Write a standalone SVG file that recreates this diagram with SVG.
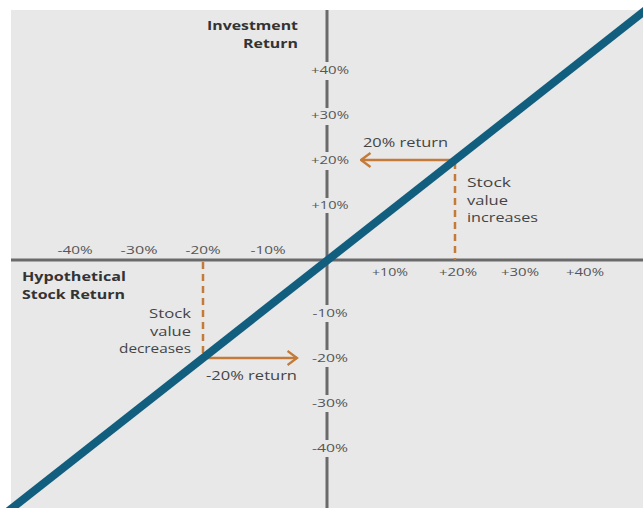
<svg xmlns="http://www.w3.org/2000/svg" width="643" height="508" viewBox="0 0 643 508">
<defs>
<style>
.tick{font-family:"Open Sans","Noto Sans",sans-serif;font-size:11.5px;fill:#555;text-anchor:middle}
.title{font-family:"Open Sans","Noto Sans",sans-serif;font-size:13px;font-weight:bold;fill:#333}
.note{font-family:"Open Sans","Noto Sans",sans-serif;font-size:13.5px;fill:#444}
.axis{stroke:#6a6a6a;stroke-width:3;fill:none}
.dash{stroke:#c47a38;stroke-width:2.5;stroke-dasharray:7 5;fill:none}
.arrow{stroke:#c47a38;stroke-width:2.5;fill:none}
</style>
<marker id="chev" viewBox="0 0 12 16" refX="10.5" refY="8" markerWidth="12" markerHeight="16" markerUnits="userSpaceOnUse" orient="auto">
<path d="M1,1 L10.5,8 L1,15" fill="none" stroke="#c47a38" stroke-width="2.3"/>
</marker>
</defs>
<rect x="0" y="0" width="643" height="508" fill="#ffffff"/>
<rect x="11" y="10" width="632" height="498" fill="#e8e8e8"/>
<g id="axes">
<line class="axis" x1="11" y1="260" x2="643" y2="260" stroke-width="2.5"/>
<path class="axis" d="M327,10 V62 M327,80 V108 M327,125 V152 M327,170 V198 M327,213 V305 M327,322 V350 M327,367 V395 M327,412 V440 M327,457 V508"/>
</g>
<g id="y-ticks">
<text class="tick" x="330" y="74" textLength="38" lengthAdjust="spacingAndGlyphs">+40%</text>
<text class="tick" x="330" y="119" textLength="38" lengthAdjust="spacingAndGlyphs">+30%</text>
<text class="tick" x="330" y="164" textLength="38" lengthAdjust="spacingAndGlyphs">+20%</text>
<text class="tick" x="330" y="209" textLength="37" lengthAdjust="spacingAndGlyphs">+10%</text>
<text class="tick" x="330" y="317" textLength="35" lengthAdjust="spacingAndGlyphs">-10%</text>
<text class="tick" x="330" y="362" textLength="36" lengthAdjust="spacingAndGlyphs">-20%</text>
<text class="tick" x="330" y="407" textLength="36" lengthAdjust="spacingAndGlyphs">-30%</text>
<text class="tick" x="330" y="452" textLength="36" lengthAdjust="spacingAndGlyphs">-40%</text>
</g>
<g id="x-ticks">
<text class="tick" x="75" y="254" textLength="35" lengthAdjust="spacingAndGlyphs">-40%</text>
<text class="tick" x="139" y="254" textLength="37" lengthAdjust="spacingAndGlyphs">-30%</text>
<text class="tick" x="203" y="254" textLength="35" lengthAdjust="spacingAndGlyphs">-20%</text>
<text class="tick" x="268" y="254" textLength="35" lengthAdjust="spacingAndGlyphs">-10%</text>
<text class="tick" x="390" y="276" textLength="36" lengthAdjust="spacingAndGlyphs">+10%</text>
<text class="tick" x="458" y="276" textLength="38" lengthAdjust="spacingAndGlyphs">+20%</text>
<text class="tick" x="520" y="276" textLength="38" lengthAdjust="spacingAndGlyphs">+30%</text>
<text class="tick" x="585" y="276" textLength="38" lengthAdjust="spacingAndGlyphs">+40%</text>
</g>
<g id="y-title">
<text class="title" x="298" y="30" text-anchor="end" textLength="91" lengthAdjust="spacingAndGlyphs">Investment</text>
<text class="title" x="298" y="48" text-anchor="end" textLength="55" lengthAdjust="spacingAndGlyphs">Return</text>
</g>
<g id="x-title">
<text class="title" x="22" y="281" textLength="104" lengthAdjust="spacingAndGlyphs">Hypothetical</text>
<text class="title" x="22" y="299" textLength="103" lengthAdjust="spacingAndGlyphs">Stock Return</text>
</g>
<g id="connectors">
<line class="dash" x1="455" y1="162" x2="455" y2="260"/>
<line class="arrow" x1="455" y1="160" x2="361" y2="160" marker-end="url(#chev)"/>
<line class="dash" x1="203" y1="262" x2="203" y2="356"/>
<line class="arrow" x1="203" y1="358" x2="297" y2="358" marker-end="url(#chev)"/>
</g>
<g id="return-line">
<line x1="0" y1="517.6" x2="650" y2="6.7" stroke="#125e7e" stroke-width="8"/>
</g>
<g id="up-note">
<text class="note" x="363" y="147" textLength="85" lengthAdjust="spacingAndGlyphs">20% return</text>
<text class="note" x="467" y="187" textLength="44" lengthAdjust="spacingAndGlyphs">Stock</text>
<text class="note" x="467" y="205" textLength="41" lengthAdjust="spacingAndGlyphs">value</text>
<text class="note" x="467" y="222" textLength="71" lengthAdjust="spacingAndGlyphs">increases</text>
</g>
<g id="down-note">
<text class="note" x="206" y="380" textLength="91" lengthAdjust="spacingAndGlyphs">-20% return</text>
<text class="note" x="191" y="318" text-anchor="end" textLength="42" lengthAdjust="spacingAndGlyphs">Stock</text>
<text class="note" x="191" y="336" text-anchor="end" textLength="41" lengthAdjust="spacingAndGlyphs">value</text>
<text class="note" x="191" y="353" text-anchor="end" textLength="72" lengthAdjust="spacingAndGlyphs">decreases</text>
</g>
</svg>
